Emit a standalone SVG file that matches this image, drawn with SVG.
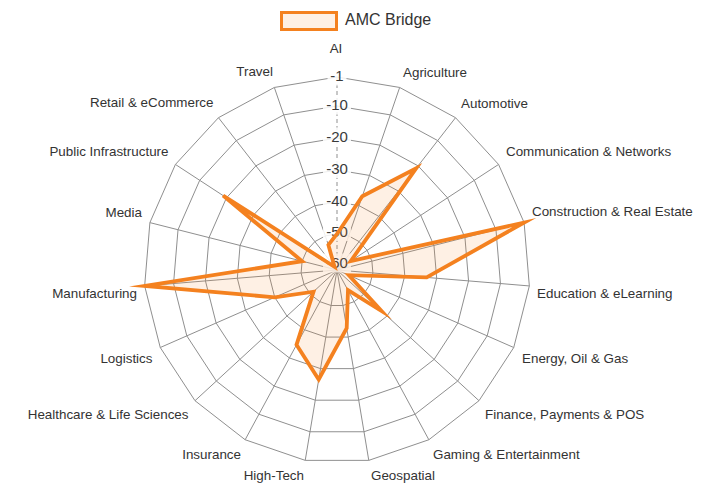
<svg xmlns="http://www.w3.org/2000/svg" xmlns:xlink="http://www.w3.org/1999/xlink" width="714" height="485" viewBox="0 0 714 485">
<style>
.grid{fill:none;stroke:#8f8f8f;stroke-width:1;vector-effect:non-scaling-stroke}
.lbl{font-family:"Liberation Sans",Arial,sans-serif;font-size:13.4px;fill:#333}
.tick{font-family:"Liberation Sans",Arial,sans-serif;font-size:15px;fill:#3a3a3a;text-anchor:middle}
.bd{fill:#fff;fill-opacity:0.85}
.s{text-anchor:start}.e{text-anchor:end}.m{text-anchor:middle}
.data{fill:#F4811F;fill-opacity:0.12;stroke:#F4811F;stroke-width:3.8;stroke-linejoin:miter;stroke-miterlimit:10}
</style>
<defs>
<polygon id="ring" class="grid" points="0,-1 0.32470,-0.94582 0.61421,-0.78914 0.83717,-0.54695 0.96940,-0.24549 0.99658,0.08258 0.91577,0.40170 0.73572,0.67728 0.47595,0.87948 0.16459,0.98636 -0.16459,0.98636 -0.47595,0.87948 -0.73572,0.67728 -0.91577,0.40170 -0.99658,0.08258 -0.96940,-0.24549 -0.83717,-0.54695 -0.61421,-0.78914 -0.32470,-0.94582"/>
</defs>
<rect width="714" height="485" fill="#fff"/>
<g id="grid">
<use xlink:href="#ring" href="#ring" transform="translate(337,270) scale(193)"/>
<use xlink:href="#ring" href="#ring" transform="translate(337,270) scale(164)"/>
<use xlink:href="#ring" href="#ring" transform="translate(337,270) scale(132)"/>
<use xlink:href="#ring" href="#ring" transform="translate(337,270) scale(100)"/>
<use xlink:href="#ring" href="#ring" transform="translate(337,270) scale(68)"/>
<use xlink:href="#ring" href="#ring" transform="translate(337,270) scale(36)"/>
<path class="grid" transform="translate(337,270) scale(193)" d="M0 0L0.32470 -0.94582M0 0L0.61421 -0.78914M0 0L0.83717 -0.54695M0 0L0.96940 -0.24549M0 0L0.99658 0.08258M0 0L0.91577 0.40170M0 0L0.73572 0.67728M0 0L0.47595 0.87948M0 0L0.16459 0.98636M0 0L-0.16459 0.98636M0 0L-0.47595 0.87948M0 0L-0.73572 0.67728M0 0L-0.91577 0.40170M0 0L-0.99658 0.08258M0 0L-0.96940 -0.24549M0 0L-0.83717 -0.54695M0 0L-0.61421 -0.78914M0 0L-0.32470 -0.94582"/>
<line x1="337" y1="77" x2="337" y2="270" stroke="#8f8f8f" stroke-width="1" stroke-dasharray="4 3"/>
</g>
<g id="ticks">
<rect class="bd" x="327.5" y="66.5" width="19" height="19"/>
<rect class="bd" x="323" y="95.5" width="28" height="19"/>
<rect class="bd" x="323" y="127.5" width="28" height="19"/>
<rect class="bd" x="323" y="159" width="28" height="19"/>
<rect class="bd" x="323" y="191" width="28" height="19"/>
<rect class="bd" x="323" y="222" width="28" height="19"/>
<rect class="bd" x="323" y="253.5" width="28" height="19"/>
<text class="tick" x="337" y="81.3">-1</text>
<text class="tick" x="337" y="110.3">-10</text>
<text class="tick" x="337" y="142.3">-20</text>
<text class="tick" x="337" y="173.8">-30</text>
<text class="tick" x="337" y="205.8">-40</text>
<text class="tick" x="337" y="236.8">-50</text>
<text class="tick" x="337" y="268.3">-60</text>
</g>
<g id="labels">
<text class="lbl m" x="336" y="53">AI</text>
<text class="lbl s" x="403" y="76.5">Agriculture</text>
<text class="lbl s" x="461" y="107.5">Automotive</text>
<text class="lbl s" x="506" y="155.5">Communication &amp; Networks</text>
<text class="lbl s" x="532" y="216">Construction &amp; Real Estate</text>
<text class="lbl s" x="537" y="298">Education &amp; eLearning</text>
<text class="lbl s" x="522" y="363">Energy, Oil &amp; Gas</text>
<text class="lbl s" x="485" y="419">Finance, Payments &amp; POS</text>
<text class="lbl s" x="433" y="459">Gaming &amp; Entertainment</text>
<text class="lbl s" x="371" y="480">Geospatial</text>
<text class="lbl e" x="304" y="480">High-Tech</text>
<text class="lbl e" x="241" y="459">Insurance</text>
<text class="lbl e" x="188.5" y="419">Healthcare &amp; Life Sciences</text>
<text class="lbl e" x="152.5" y="363">Logistics</text>
<text class="lbl e" x="137" y="298">Manufacturing</text>
<text class="lbl e" x="142" y="216.5">Media</text>
<text class="lbl e" x="168.5" y="155.5">Public Infrastructure</text>
<text class="lbl e" x="213.5" y="107">Retail &amp; eCommerce</text>
<text class="lbl e" x="273" y="76">Travel</text>
</g>
<g id="dataset">
<polygon class="data" points="337,234 362.3,196.2 416.2,168.2 350.8,261.0 524.1,222.6 426.7,277.4 348.9,275.2 381.5,311.0 348.0,290.2 346.7,328.2 318.7,379.5 296.5,344.8 313.5,291.7 274.7,297.3 144.7,285.9 302.1,261.2 223.1,195.6 334.5,266.8 328.4,244.9"/>
</g>
<g id="legend">
<rect x="281.5" y="12.5" width="55" height="17" fill="#F4811F" fill-opacity="0.12" stroke="#F4811F" stroke-width="3"/>
<text x="345" y="25" font-family="'Liberation Sans',Arial,sans-serif" font-size="16" fill="#333">AMC Bridge</text>
</g>
</svg>
